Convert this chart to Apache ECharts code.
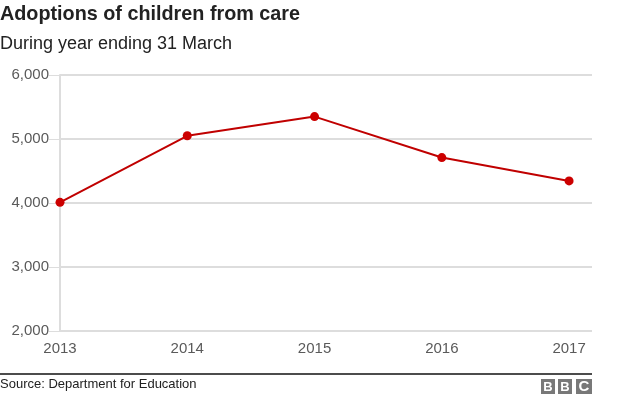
<!DOCTYPE html>
<html>
<head>
<meta charset="utf-8">
<script src="https://cdn.jsdelivr.net/npm/echarts@6/dist/echarts.min.js"></script>
<style>
html,body{margin:0;padding:0;background:#fff;}
#chart{width:624px;height:398px;}
</style>
</head>
<body>
<div id="chart"></div>
<script>
const years = [2013, 2014, 2015, 2016, 2017];
const adoptions = [4010, 5050, 5350, 4710, 4345];
const yTicks = [2000, 3000, 4000, 5000, 6000];
const titleText = 'Adoptions of children from care';
const subtitleText = 'During year ending 31 March';
const sourceText = 'Source: Department for Education';

const font = 'Arial, "Liberation Sans", Helvetica, sans-serif';
const chart = echarts.init(document.getElementById('chart'), null, {renderer: 'canvas'});
chart.setOption({
  animation: false,
  backgroundColor: '#fff',
  title: [{
    text: titleText,
    left: -5, top: 0,
    textStyle: {fontFamily: font, fontSize: 19.8, fontWeight: 'bold', color: '#222'}
  }, {
    text: subtitleText,
    left: -5, top: 30,
    textStyle: {fontFamily: font, fontSize: 18, fontWeight: 'normal', color: '#222'}
  }],
  grid: {left: 60, right: 32, top: 75, bottom: 67, containLabel: false},
  xAxis: {
    type: 'value',
    min: years[0],
    max: years[years.length - 1] + 0.18,
    interval: 1,
    axisLine: {show: false},
    axisTick: {show: false},
    splitLine: {show: false},
    axisLabel: {
      fontFamily: font, fontSize: 15, color: '#5a5a5a', margin: 10,
      showMaxLabel: false,
      formatter: v => (Number.isInteger(v) && years.includes(v)) ? String(v) : ''
    }
  },
  yAxis: {
    type: 'value',
    min: yTicks[0], max: yTicks[yTicks.length - 1], interval: 1000,
    axisLine: {show: true, lineStyle: {color: '#ddd', width: 2}},
    axisTick: {show: true, length: 11, lineStyle: {color: '#ddd', width: 1}},
    splitLine: {show: true, lineStyle: {color: '#ddd', width: 2}},
    axisLabel: {
      fontFamily: font, fontSize: 15, color: '#5a5a5a', margin: 11,
      formatter: v => v.toLocaleString('en-GB')
    }
  },
  series: [{
    type: 'line',
    data: years.map((y, i) => [y, adoptions[i]]),
    symbol: 'circle',
    symbolSize: 9,
    lineStyle: {color: '#c00000', width: 2},
    itemStyle: {color: '#cc0000'},
    z: 5
  }],
  graphic: [
    {type: 'line', shape: {x1: 0, y1: 374, x2: 592, y2: 374}, style: {stroke: '#111', lineWidth: 1.5}},
    {type: 'text', left: 0, top: 378, style: {text: sourceText, font: '13px ' + font, fill: '#222'}},
    {type: 'rect', shape: {x: 541, y: 379, width: 14, height: 15}, style: {fill: '#787878'}},
    {type: 'rect', shape: {x: 558, y: 379, width: 14, height: 15}, style: {fill: '#787878'}},
    {type: 'rect', shape: {x: 576, y: 379, width: 16, height: 15}, style: {fill: '#787878'}},
    {type: 'text', x: 548, y: 387, style: {text: 'B', font: 'bold 13px ' + font, fill: '#fff', align: 'center', verticalAlign: 'middle'}},
    {type: 'text', x: 565, y: 387, style: {text: 'B', font: 'bold 13px ' + font, fill: '#fff', align: 'center', verticalAlign: 'middle'}},
    {type: 'text', x: 584, y: 387, style: {text: 'C', font: 'bold 15px ' + font, fill: '#fff', align: 'center', verticalAlign: 'middle'}}
  ]
});
</script>
</body>
</html>
